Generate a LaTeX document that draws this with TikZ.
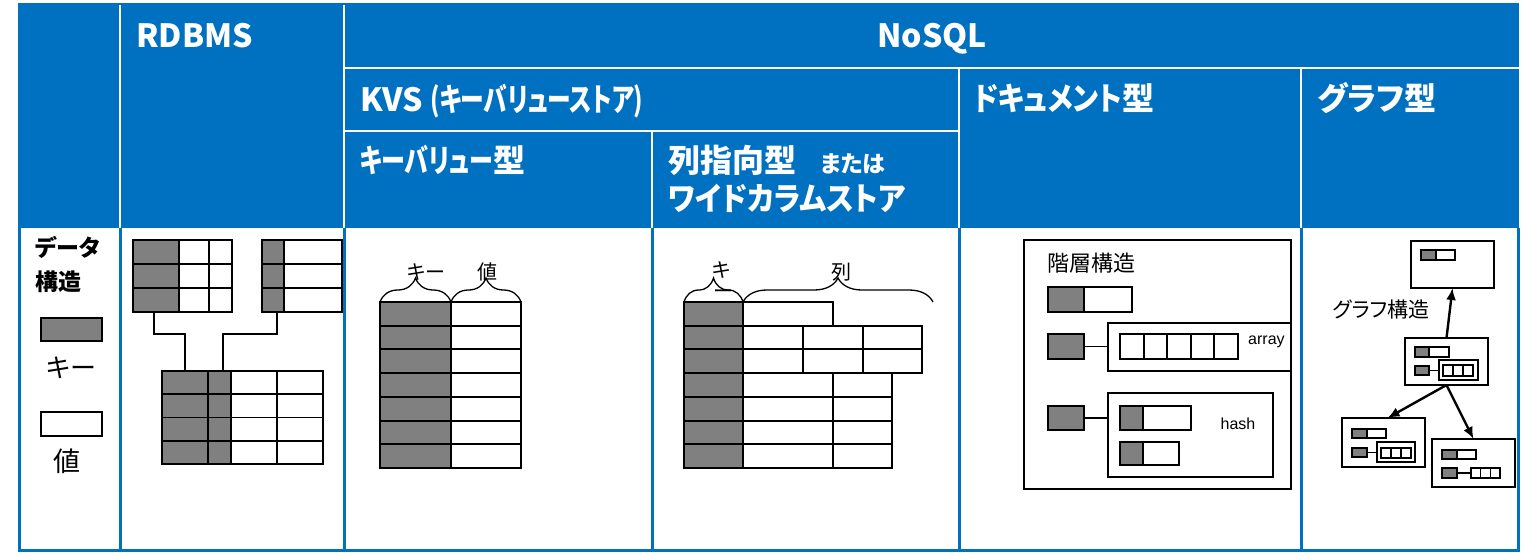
\documentclass[tikz,border=0pt]{standalone}
\usepackage{graphicx}
\usepackage{fontspec}
\setmainfont{Liberation Sans}
\newfontfamily\jp{Noto Sans CJK JP}[RawFeature=+palt]
\usetikzlibrary{decorations.pathreplacing,arrows.meta,calc}
\definecolor{hdblue}{HTML}{0070C0}
\definecolor{keygray}{HTML}{808080}
\newcommand\narrowtxt[2]{\scalebox{#1}[1]{#2}}
\begin{document}
\begin{tikzpicture}[x=1pt,y=-1pt,
  hd/.style={text=white,font=\jp\bfseries\fontsize{32}{34}\selectfont,inner sep=0pt,anchor=base west},
  hline/.style={white,line width=2.2pt},
  bline/.style={hdblue,line width=3pt},
  keyc/.style={fill=keygray,draw=black,line width=1.9pt},
  valc/.style={fill=white,draw=black,line width=1.9pt},
  skey/.style={fill=keygray,draw=black,line width=1.4pt},
  sval/.style={fill=white,draw=black,line width=1.4pt},
  conn/.style={draw=black,line width=1.8pt},
  brc/.style={draw=black,line width=1.3pt,decorate,decoration={brace,amplitude=24pt}},
  lbl/.style={font=\jp\fontsize{20}{22}\selectfont,inner sep=0pt},
  boxn/.style={draw=black,line width=1.9pt,fill=white,inner sep=0pt,outer sep=0pt},
  gbox/.style={draw=black,line width=1.8pt,fill=white,inner sep=0pt,outer sep=0pt},
  garrow/.style={draw=black,line width=2.4pt,-{Latex[length=12pt,width=10pt]}}]
\useasboundingbox (0,0) rectangle (1524,555);
\fill[white] (0,0) rectangle (1524,555);
% header
\fill[hdblue] (18,3) rectangle (1519,228);
\draw[hline] (120,5) -- (120,228);
\draw[hline] (344,5) -- (344,228);
\draw[hline] (344,68) -- (1519,68);
\draw[hline] (344,131) -- (959,131);
\draw[hline] (959,68) -- (959,228);
\draw[hline] (1301,68) -- (1301,228);
\draw[hline] (652,131) -- (652,228);
\node[hd] (hrdb) at (136,47) {RDBMS};
\node[hd,anchor=base] (hnosql) at (932,47) {NoSQL};
\node[hd] (hkvs) at (360,111) {KVS \narrowtxt{0.74}{(キーバリューストア)}};
\node[hd] (hkv) at (360,172) {\narrowtxt{0.75}{キーバリュー}型};
\node[hd] (hcol) at (668,172) {列指向型\hspace{24pt}{\fontsize{23}{24}\selectfont または}};
\node[hd] (hwide) at (668,210) {\narrowtxt{0.91}{ワイドカラムストア}};
\node[hd] (hdoc) at (973,110) {\narrowtxt{0.88}{ドキュメント}型};
\node[hd] (hgr) at (1317,110) {グラフ型};
% body frame
\draw[bline] (19,228) -- (19,550) -- (1518,550) -- (1518,228);
\foreach \xx in {120,344,652,959,1301} \draw[bline] (\xx,228) -- (\xx,550);
% legend
\node[inner sep=0pt,anchor=base west,font=\jp\bfseries\fontsize{23}{25}\selectfont] (ldata) at (35,256) {データ};
\node[inner sep=0pt,anchor=base west,font=\jp\bfseries\fontsize{23}{25}\selectfont] (lstruct) at (35,290) {構造};
\draw[keyc] (41,318) rectangle (102,341);
\node[font=\jp\fontsize{26}{28}\selectfont,inner sep=0pt] (lkey) at (71,368) {キー};
\draw[valc] (41,412) rectangle (102,436);
\node[font=\jp\fontsize{27}{29}\selectfont,inner sep=0pt] (lval) at (67,461) {値};
% RDBMS
\foreach \r in {0,1,2}{
  \draw[keyc] (133,240+24*\r) rectangle (179,264+24*\r);
  \draw[valc] (179,240+24*\r) rectangle (209,264+24*\r);
  \draw[valc] (209,240+24*\r) rectangle (232,264+24*\r);
  \draw[keyc] (262,240+24*\r) rectangle (284,264+24*\r);
  \draw[valc] (284,240+24*\r) rectangle (342,264+24*\r);
}
\foreach \r in {0,1,2,3}{
  \draw[keyc] (162,371+23.25*\r) rectangle (208,394.25+23.25*\r);
  \draw[keyc] (208,371+23.25*\r) rectangle (231,394.25+23.25*\r);
  \draw[valc] (231,371+23.25*\r) rectangle (277,394.25+23.25*\r);
  \draw[valc] (277,371+23.25*\r) rectangle (323,394.25+23.25*\r);
}
\coordinate (ra) at (154,312); \coordinate (rb) at (277,312);
\coordinate (rc1) at (185,371); \coordinate (rc2) at (223,371);
\draw[conn] (ra) -- (154,334) -| (rc1);
\draw[conn] (rb) -- (277,334) -| (rc2);
% KVS
\foreach \r in {0,...,6}{
  \draw[keyc] (380,302+23.714*\r) rectangle (451,325.714+23.714*\r);
  \draw[valc] (451,302+23.714*\r) rectangle (521,325.714+23.714*\r);
}
\draw[brc] (380,302) -- (451,302);
\draw[brc] (451,302) -- (521,302);
\node[lbl] (kk) at (426,272) {キー};
\node[lbl] (kvv) at (487,272) {値};
% wide column
\foreach \r in {0,...,6}{
  \draw[keyc] (684,302+23.714*\r) rectangle (743,325.714+23.714*\r);
}
\draw[valc] (743,302) rectangle (833,325.714);
\foreach \r in {1,2}{
  \draw[valc] (743,302+23.714*\r) rectangle (803,325.714+23.714*\r);
  \draw[valc] (803,302+23.714*\r) rectangle (863,325.714+23.714*\r);
  \draw[valc] (863,302+23.714*\r) rectangle (922,325.714+23.714*\r);
}
\foreach \r in {3,...,6}{
  \draw[valc] (743,302+23.714*\r) rectangle (833,325.714+23.714*\r);
  \draw[valc] (833,302+23.714*\r) rectangle (892,325.714+23.714*\r);
}
\draw[brc] (684,302) -- (743,302);
\draw[brc] (743,302) -- (933,302);
\node[lbl] (wk1) at (722,270) {キ};
\node[lbl] (wk2) at (723,294) {ー};
\node[lbl] (wcol) at (841,272) {列};
% document
\draw[line width=1.9pt] (1024,240) rectangle (1291,489);
\node[inner sep=0pt,anchor=west,font=\jp\fontsize{22}{24}\selectfont] (dlabel) at (1047,263) {階層構造};
\draw[keyc] (1048,287) rectangle (1084,312);
\draw[valc] (1084,287) rectangle (1132,312);
\node[boxn,minimum width=183pt,minimum height=48pt] (darr) at (1199.5,347) {};
\node[boxn,fill=keygray,minimum width=36pt,minimum height=25pt] (dk2) at (1066,346.5) {};
\draw[conn] (dk2.east) -- (dk2.east -| darr.west);
\foreach \i in {0,...,4} \draw[valc] (1120+23.6*\i,334) rectangle (1143.6+23.6*\i,359);
\node[inner sep=0pt,anchor=west,font=\fontsize{16}{18}\selectfont] (tarr) at (1248,342) {array};
\node[boxn,minimum width=165pt,minimum height=84pt] (dhash) at (1190.5,435) {};
\node[boxn,fill=keygray,minimum width=36pt,minimum height=24pt] (dk3) at (1066,418) {};
\draw[conn] (dk3.east) -- (dk3.east -| dhash.west);
\draw[keyc] (1120,406) rectangle (1143,430);
\draw[valc] (1143,406) rectangle (1191,430);
\draw[keyc] (1120,442) rectangle (1143,465);
\draw[valc] (1143,442) rectangle (1179,465);
\node[inner sep=0pt,font=\fontsize{16}{18}\selectfont] (thash) at (1238,424) {hash};
% graph
\node[gbox,minimum width=83pt,minimum height=47pt] (gt) at (1452.5,264.5) {};
\node[gbox,minimum width=83pt,minimum height=47pt] (gm) at (1446.5,361.5) {};
\node[gbox,minimum width=83pt,minimum height=49pt] (gl) at (1383.5,442.5) {};
\node[gbox,minimum width=83pt,minimum height=48pt] (gr) at (1473.5,463) {};
\node[font=\jp\fontsize{21}{23}\selectfont,inner sep=0pt] (glabel) at (1381,310) {グラフ構造};
% top contents
\draw[skey] (1421,250) rectangle (1436,260); \draw[sval] (1436,250) rectangle (1455,260);
% mid contents
\draw[skey] (1415,347) rectangle (1429,357); \draw[sval] (1429,347) rectangle (1449,357);
\draw[skey] (1415,366) rectangle (1429,375);
\draw[line width=1.4pt] (1429,370.5) -- (1439,370.5);
\draw[sval] (1439,360) rectangle (1478,380);
\foreach \i in {0,1,2} \draw[sval] (1443+10*\i,365) rectangle (1453+10*\i,376);
% left contents
\draw[skey] (1352,429) rectangle (1367,438); \draw[sval] (1367,429) rectangle (1386,438);
\draw[skey] (1352,448) rectangle (1367,457);
\draw[line width=1.4pt] (1367,452.5) -- (1377,452.5);
\draw[sval] (1377,442) rectangle (1415,462);
\foreach \i in {0,1,2} \draw[sval] (1381+10*\i,448) rectangle (1391+10*\i,458);
% right contents
\draw[skey] (1442,450) rectangle (1457,459); \draw[sval] (1457,450) rectangle (1476,459);
\draw[skey] (1442,468) rectangle (1457,478);
\draw[line width=1.4pt] (1457,473) -- (1471,473);
\foreach \i in {0,1,2} \draw[sval] (1471+9.67*\i,468) rectangle (1480.67+9.67*\i,478);
% arrows
\draw[garrow] (gm.north) -- (gt.south);
\draw[garrow] (gm.south) -- ($(gl.north)+(4,0)$);
\draw[garrow] (gm.south) -- (gr.north);
\end{tikzpicture}
\end{document}
